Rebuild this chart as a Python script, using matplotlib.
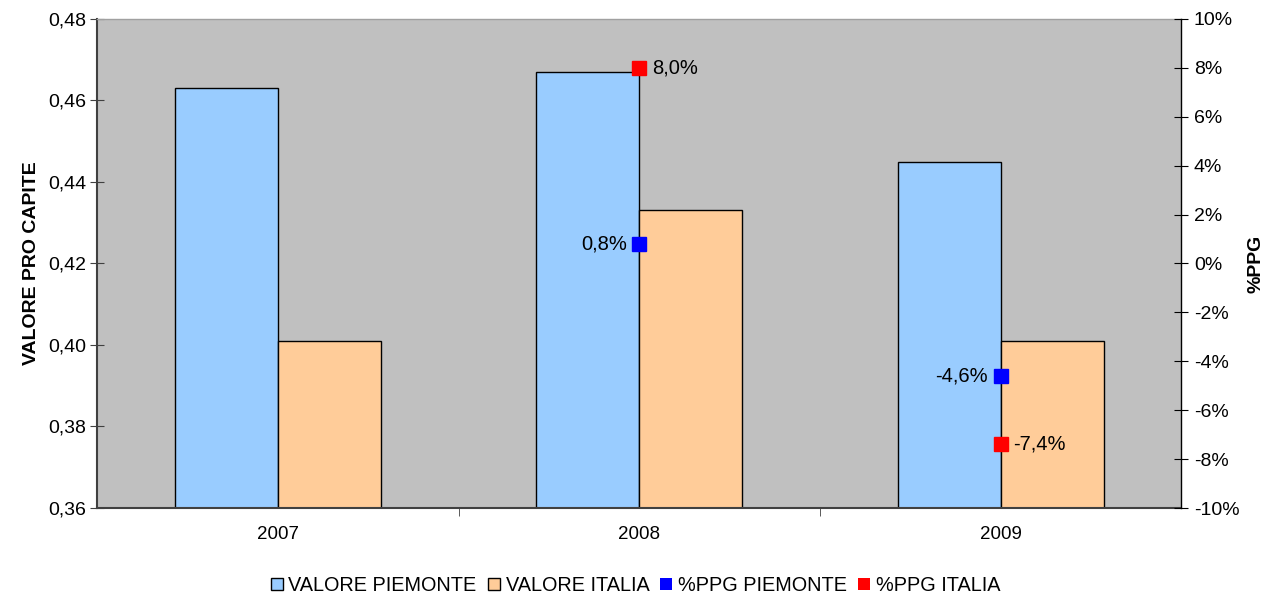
import matplotlib
matplotlib.use("Agg")
import matplotlib.pyplot as plt
from matplotlib.ticker import FuncFormatter, FixedLocator
from matplotlib.patches import Patch
import numpy as np

plt.rcParams['font.family'] = ['Liberation Sans', 'DejaVu Sans']

years = ["2007", "2008", "2009"]
valore_piemonte = [0.463, 0.467, 0.445]
valore_italia = [0.401, 0.433, 0.401]
ppg_piemonte = [None, 0.8, -4.6]
ppg_italia = [None, 8.0, -7.4]

col_piem = "#99CCFF"
col_ita = "#FFCC99"
col_bg = "#C0C0C0"

fig = plt.figure(figsize=(12.71, 5.98), dpi=100)
ax = fig.add_axes([0.0767, 0.1505, 0.8527, 0.8178])
ax.set_facecolor(col_bg)

x = np.arange(len(years))
w = 0.285
ax.bar(x - w / 2, valore_piemonte, w, color=col_piem, edgecolor="black", linewidth=1.0, zorder=2)
ax.bar(x + w / 2, valore_italia, w, color=col_ita, edgecolor="black", linewidth=1.0, zorder=2)

ax.set_xlim(-0.5, len(years) - 0.5)
ax.set_ylim(0.36, 0.48)
ax.set_yticks(np.arange(0.36, 0.4801, 0.02))
ax.yaxis.set_major_formatter(FuncFormatter(lambda v, p: f"{v:.2f}".replace(".", ",")))
ax.set_xticks(x)
ax.set_xticklabels(years)
ax.xaxis.set_minor_locator(FixedLocator([0.5, 1.5]))
ax.tick_params(axis="x", which="major", length=0, pad=13, labelsize=13.5)
ax.tick_params(axis="x", which="minor", length=6, direction="out", color="#404040")
ax.tick_params(axis="y", length=10, direction="inout", labelsize=14, color="#404040", pad=3)
ax.set_ylabel("VALORE PRO CAPITE", fontsize=14, fontweight="bold", labelpad=6)

for side in ("left", "bottom"):
    ax.spines[side].set_color("#404040")
    ax.spines[side].set_linewidth(1.5)
ax.spines["top"].set_color("#A0A0A0")
ax.spines["top"].set_linewidth(1.0)
ax.spines["right"].set_visible(False)

ax2 = ax.twinx()
ax2.set_ylim(-10, 10)
ax2.set_yticks(np.arange(-10, 10.01, 2))
ax2.yaxis.set_major_formatter(FuncFormatter(lambda v, p: f"{v:.0f}%"))
ax2.tick_params(axis="y", length=10, direction="inout", labelsize=14, pad=4)
ax2.spines["right"].set_color("black")
ax2.spines["right"].set_linewidth(1.0)
for side in ("left", "top", "bottom"):
    ax2.spines[side].set_visible(False)
ax2.set_ylabel("%PPG", fontsize=14, fontweight="bold", labelpad=6)

def fmt_pct(v):
    return f"{v:.1f}%".replace(".", ",")

for i, v in enumerate(ppg_piemonte):
    if v is None:
        continue
    ax2.plot(x[i], v, marker="s", markersize=10.5, color="#0000FF", linestyle="none", zorder=5)
    ax2.annotate(fmt_pct(v), (x[i], v), xytext=(-9, 0), textcoords="offset points",
                 ha="right", va="center", fontsize=14.5)

for i, v in enumerate(ppg_italia):
    if v is None:
        continue
    ax2.plot(x[i], v, marker="s", markersize=10.5, color="#FF0000", linestyle="none", zorder=5)
    ax2.annotate(fmt_pct(v), (x[i], v), xytext=(9, 0), textcoords="offset points",
                 ha="left", va="center", fontsize=14.5)

handles = [
    Patch(facecolor=col_piem, edgecolor="black", label="VALORE PIEMONTE"),
    Patch(facecolor=col_ita, edgecolor="black", label="VALORE ITALIA"),
    Patch(facecolor="#0000FF", edgecolor="none", label="%PPG PIEMONTE"),
    Patch(facecolor="#FF0000", edgecolor="none", label="%PPG ITALIA"),
]
fig.legend(handles=handles, loc="center", bbox_to_anchor=(0.5, 0.021), ncol=4, frameon=False,
           fontsize=14.3, handlelength=0.6, handleheight=0.6, handletextpad=0.3, columnspacing=0.55)

fig.savefig("out.png", dpi=100)
